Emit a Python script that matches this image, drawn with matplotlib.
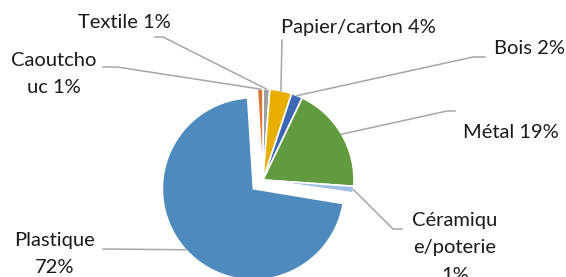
# Composition des déchets - camembert
import numpy as np
import matplotlib.pyplot as plt

plt.rcParams['font.family'] = ['Lato', 'DejaVu Sans']

# données (ordre horaire depuis midi)
labels = ['Textile 1%', 'Papier/carton 4%', 'Bois 2%', 'Métal 19%',
          'Céramiqu\ne/poterie\n1%', '', 'Plastique\n72%', 'Caoutcho\nuc 1%']
values = [1.2, 3.9, 2.0, 19.0, 1.2, 0.3, 71.4, 1.0]
colors = ['#A0A0A0', '#E8AE00', '#3D66B3', '#629B3F',
          '#9EC0E5', '#7A3AAE', '#4E8ABE', '#DB7434']
explode = [0, 0, 0, 0, 0, 0, 13, 0]

# placement des étiquettes (pixels image) et coudes des traits
label_pos = [(124, 23), (358, 27), (529, 49), (511, 133),
             (455, 248), None, (55, 254), (54, 74)]
elbows = [[(163, 37), (155, 37)],
          [(282, 40)],
          [(473, 57), (485, 57)],
          [(447, 111), (455, 111)],
          [(393, 229), (402, 229)],
          None,
          [(103, 249)],
          [(117, 67), (103, 67)]]

W, H = 566, 277
cx, cy, r = 263, 180, 91

fig = plt.figure(figsize=(W / 100, H / 100), dpi=100)
ax = fig.add_axes([0, 0, 1, 1])

wedges, _ = ax.pie(values, colors=colors, explode=explode, center=(cx, cy),
                   radius=r, startangle=-90, counterclock=True,
                   wedgeprops=dict(edgecolor='white', linewidth=1.2))
ax.set_xlim(0, W)
ax.set_ylim(H, 0)
ax.set_aspect('equal')
ax.axis('off')

for w, lab, pos, elb in zip(wedges, labels, label_pos, elbows):
    if not lab:
        continue
    th = np.deg2rad((w.theta1 + w.theta2) / 2)
    x0 = w.center[0] + w.r * np.cos(th)
    y0 = w.center[1] + w.r * np.sin(th)
    pts = [(x0, y0)] + elb
    ax.plot([p[0] for p in pts], [p[1] for p in pts], color='#A6A6A6', lw=1.1)
    ax.text(pos[0], pos[1], lab, ha='center', va='center', fontsize=14.5,
            color='#1a1a1a', linespacing=1.75)

fig.savefig('out.png', dpi=100)
